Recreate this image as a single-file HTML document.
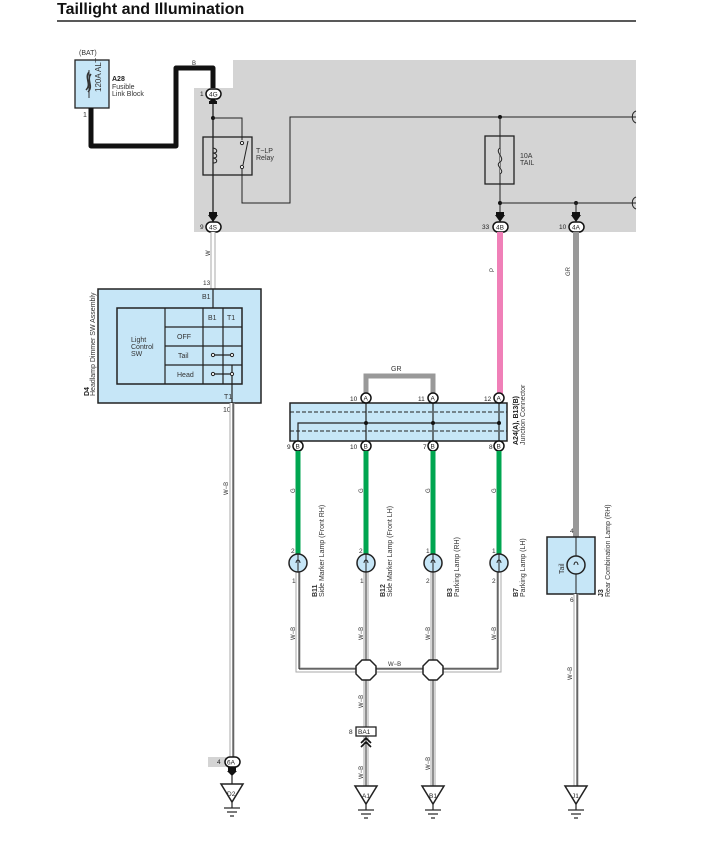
<!DOCTYPE html>
<html><head><meta charset="utf-8"><style>
html,body{margin:0;padding:0;background:#fff;}
svg{display:block;font-family:"Liberation Sans",sans-serif;}
</style></head><body>
<svg width="703" height="843" viewBox="0 0 703 843" xmlns="http://www.w3.org/2000/svg">
<defs>
<g id="gnd">
<polygon points="-11,0 11,0 0,18" fill="#fff" stroke="#222" stroke-width="1.5"/>
<line x1="0" y1="18" x2="0" y2="24" stroke="#222" stroke-width="1.2"/>
<line x1="-8" y1="24" x2="8" y2="24" stroke="#222" stroke-width="1.2"/>
<line x1="-5" y1="28" x2="5" y2="28" stroke="#222" stroke-width="1.2"/>
<line x1="-2" y1="32" x2="2" y2="32" stroke="#222" stroke-width="1.2"/>
</g>
</defs>
<text x="57" y="14" font-size="16" font-weight="bold" fill="#111">Taillight and Illumination</text>
<line x1="57" y1="21" x2="636" y2="21" stroke="#222" stroke-width="1.5"/>

<!-- gray area -->
<polygon points="194,88 233,88 233,60 636,60 636,232 194,232" fill="#d4d4d4"/>

<!-- fusible link -->
<text x="79" y="55" font-size="7" fill="#333">(BAT)</text>
<rect x="75" y="60" width="34" height="48" fill="#c6e6f7" stroke="#222" stroke-width="1.3"/>
<line x1="89" y1="70" x2="89" y2="98" stroke="#333" stroke-width="1"/>
<path d="M89,72 C84,78 92,84 86,90 M91,74 C86,80 94,86 88,92" stroke="#333" fill="none" stroke-width="1.5"/>
<text transform="translate(101,92) rotate(-90)" font-size="8" fill="#333">120A ALT</text>
<text x="112" y="81" font-size="7" font-weight="bold" fill="#222">A28</text>
<text x="112" y="89" font-size="7" fill="#333">Fusible</text>
<text x="112" y="96" font-size="7" fill="#333">Link Block</text>
<text x="83" y="117" font-size="7" fill="#333">1</text>
<polyline points="91,108 91,146 176,146 176,68 213,68 213,88" fill="none" stroke="#111" stroke-width="5" stroke-linejoin="round"/>
<text x="192" y="65" font-size="6" fill="#333">B</text>

<!-- relay section -->
<line x1="213" y1="96" x2="213" y2="222" stroke="#222" stroke-width="1.3"/>
<polygon points="209,102 217,102 213,97" fill="#111"/>
<polygon points="208,215 218,215 213,222" fill="#111"/>
<rect x="209" y="101" width="8" height="3" fill="#111"/>
<rect x="209" y="212" width="8" height="4" fill="#111"/>
<circle cx="213" cy="118" r="2" fill="#111"/>
<polyline points="213,118 242,118 242,140" fill="none" stroke="#222" stroke-width="1"/>
<rect x="203" y="137" width="49" height="38" fill="none" stroke="#222" stroke-width="1.3"/>
<path d="M213,148 c5,1 5,5 0,5 c5,1 5,5 0,5 c5,1 5,5 0,5" fill="none" stroke="#222" stroke-width="1"/>
<circle cx="242" cy="143" r="1.6" fill="#fff" stroke="#222"/>
<circle cx="242" cy="167" r="1.6" fill="#fff" stroke="#222"/>
<line x1="243" y1="165" x2="248" y2="141" stroke="#222" stroke-width="1"/>
<polyline points="242,169 242,203 290,203 290,117 636,117" fill="none" stroke="#222" stroke-width="1"/>
<text x="256" y="153" font-size="7" fill="#333">T−LP</text>
<text x="256" y="160" font-size="7" fill="#333">Relay</text>
<path d="M636,111 c-5,2 -5,10 0,12" fill="none" stroke="#222" stroke-width="1"/>
<!-- fuse -->
<circle cx="500" cy="117" r="2" fill="#111"/>
<line x1="500" y1="117" x2="500" y2="222" stroke="#222" stroke-width="1"/>
<rect x="485" y="136" width="29" height="48" fill="none" stroke="#222" stroke-width="1.3"/>
<path d="M500,148 c-6,4 6,10 0,14 c-6,4 6,8 0,12" fill="#d4d4d4" stroke="#222" stroke-width="1"/>
<text x="520" y="158" font-size="7" fill="#333">10A</text>
<text x="520" y="165" font-size="7" fill="#333">TAIL</text>
<circle cx="500" cy="203" r="2" fill="#111"/>
<circle cx="576" cy="203" r="2" fill="#111"/>
<line x1="500" y1="203" x2="636" y2="203" stroke="#222" stroke-width="1"/>
<line x1="576" y1="203" x2="576" y2="222" stroke="#222" stroke-width="1"/>
<path d="M636,197 c-5,2 -5,10 0,12" fill="none" stroke="#222" stroke-width="1"/>
<polygon points="495,215 505,215 500,222" fill="#111"/><rect x="496" y="212" width="8" height="4" fill="#111"/>
<polygon points="571,215 581,215 576,222" fill="#111"/><rect x="572" y="212" width="8" height="4" fill="#111"/>

<!-- connectors ovals -->
<g font-size="6.5" fill="#222">
<rect x="206" y="89" width="15" height="10" rx="5" fill="#fff" stroke="#111" stroke-width="1.5"/><text x="209" y="96.5">4G</text><text x="200" y="96">1</text>
<rect x="206" y="222" width="15" height="10" rx="5" fill="#fff" stroke="#111" stroke-width="1.5"/><text x="209" y="229.5">4S</text><text x="200" y="229">9</text>
<rect x="493" y="222" width="15" height="10" rx="5" fill="#fff" stroke="#111" stroke-width="1.5"/><text x="496" y="229.5">4B</text><text x="482" y="229">33</text>
<rect x="569" y="222" width="15" height="10" rx="5" fill="#fff" stroke="#111" stroke-width="1.5"/><text x="572" y="229.5">4A</text><text x="559" y="229">10</text>
</g>

<!-- W wire -->
<line x1="213" y1="232" x2="213" y2="290" stroke="#aaa" stroke-width="5"/>
<line x1="213" y1="232" x2="213" y2="290" stroke="#fff" stroke-width="3"/>
<text transform="translate(210,256) rotate(-90)" font-size="6" fill="#333">W</text>
<text x="203" y="285" font-size="6.5" fill="#333">13</text>
<!-- pink -->
<line x1="500" y1="232" x2="500" y2="398" stroke="#f080b8" stroke-width="6"/>
<text transform="translate(494,272) rotate(-90)" font-size="6" fill="#333">P</text>
<!-- GR -->
<line x1="576" y1="232" x2="576" y2="537" stroke="#999" stroke-width="6"/>
<text transform="translate(570,276) rotate(-90)" font-size="6" fill="#333">GR</text>

<!-- D4 -->
<rect x="98" y="289" width="163" height="114" fill="#c6e6f7" stroke="#222" stroke-width="1.5"/>
<line x1="213" y1="289" x2="213" y2="308" stroke="#222" stroke-width="1.2"/>
<text x="202" y="299" font-size="7" fill="#333">B1</text>
<rect x="117" y="308" width="125" height="76" fill="none" stroke="#222" stroke-width="1.5"/>
<g stroke="#222" stroke-width="1.2">
<line x1="165" y1="308" x2="165" y2="384"/>
<line x1="203" y1="308" x2="203" y2="384"/>
<line x1="223" y1="308" x2="223" y2="384"/>
<line x1="165" y1="327" x2="242" y2="327"/>
<line x1="165" y1="346" x2="242" y2="346"/>
<line x1="165" y1="365" x2="242" y2="365"/>
<line x1="213" y1="355" x2="232" y2="355"/>
<line x1="213" y1="374" x2="232" y2="374"/>
<line x1="232" y1="365" x2="232" y2="403"/>
</g>
<g fill="#fff" stroke="#222" stroke-width="1"><circle cx="213" cy="355" r="1.6"/><circle cx="232" cy="355" r="1.6"/><circle cx="213" cy="374" r="1.6"/><circle cx="232" cy="374" r="1.6"/></g>
<g font-size="7" fill="#333">
<text x="208" y="320">B1</text><text x="227" y="320">T1</text>
<text x="177" y="339">OFF</text><text x="178" y="358">Tail</text><text x="177" y="377">Head</text>
<text x="131" y="342">Light</text><text x="131" y="349">Control</text><text x="131" y="356">SW</text>
<text x="224" y="399">T1</text><text x="223" y="412">10</text>
<text transform="translate(89,396) rotate(-90)" font-size="7" font-weight="bold" fill="#222">D4</text>
<text transform="translate(95,396) rotate(-90)">Headlamp Dimmer SW Assembly</text>
</g>

<!-- D4 W-B wire to ground -->
<line x1="232" y1="403" x2="232" y2="757" stroke="#aaa" stroke-width="5"/>
<line x1="232" y1="403" x2="232" y2="757" stroke="#fff" stroke-width="3"/>
<line x1="233" y1="403" x2="233" y2="757" stroke="#222" stroke-width="1"/>
<text transform="translate(228,495) rotate(-90)" font-size="6" fill="#333">W−B</text>
<rect x="208" y="757" width="18" height="10" fill="#d4d4d4"/>
<rect x="225" y="757" width="15" height="10" rx="5" fill="#fff" stroke="#111" stroke-width="1.5"/>
<text x="227" y="764.5" font-size="6.5" fill="#222">6A</text><text x="217" y="764" font-size="6.5" fill="#222">4</text>
<rect x="228" y="767" width="8" height="4" fill="#111"/><polygon points="227,771 237,771 232,776" fill="#111"/>
<line x1="232" y1="775" x2="232" y2="784" stroke="#222" stroke-width="1.2"/>
<use href="#gnd" x="232" y="784"/>
<text x="227" y="796" font-size="6.5" fill="#222">D2</text>

<!-- junction connector -->
<polyline points="366,398 366,376 433,376 433,398" fill="none" stroke="#999" stroke-width="5"/>
<text x="391" y="371" font-size="7" fill="#333">GR</text>
<rect x="290" y="403" width="217" height="38" fill="#c6e6f7" stroke="#222" stroke-width="1.5"/>
<line x1="290" y1="412" x2="507" y2="412" stroke="#222" stroke-width="1" stroke-dasharray="4,2"/>
<line x1="290" y1="431" x2="507" y2="431" stroke="#222" stroke-width="1" stroke-dasharray="4,2"/>
<g stroke="#222" stroke-width="1.2">
<line x1="366" y1="398" x2="366" y2="446"/><line x1="433" y1="398" x2="433" y2="446"/><line x1="499" y1="398" x2="499" y2="446"/>
<polyline points="298,446 298,423 499,423" fill="none"/>
</g>
<g fill="#111"><circle cx="366" cy="423" r="2"/><circle cx="433" cy="423" r="2"/><circle cx="499" cy="423" r="2"/></g>
<g font-size="6.5" fill="#222">
<g stroke="#111" stroke-width="1.5" fill="#fff"><circle cx="366" cy="398" r="5"/><circle cx="433" cy="398" r="5"/><circle cx="499" cy="398" r="5"/>
<circle cx="298" cy="446" r="5"/><circle cx="366" cy="446" r="5"/><circle cx="433" cy="446" r="5"/><circle cx="499" cy="446" r="5"/></g>
<text x="363.5" y="400.5">A</text><text x="430.5" y="400.5">A</text><text x="496.5" y="400.5">A</text>
<text x="295.5" y="448.5">B</text><text x="363.5" y="448.5">B</text><text x="430.5" y="448.5">B</text><text x="496.5" y="448.5">B</text>
<text x="350" y="401">10</text><text x="418" y="401">11</text><text x="484" y="401">12</text>
<text x="287" y="449">9</text><text x="350" y="449">10</text><text x="423" y="449">7</text><text x="489" y="449">8</text>
</g>
<text transform="translate(518,445) rotate(-90)" font-size="7" font-weight="bold" fill="#222">A24(A), B13(B)</text>
<text transform="translate(525,445) rotate(-90)" font-size="7" fill="#333">Junction Connector</text>

<!-- green wires -->
<g stroke="#00a650" stroke-width="5">
<line x1="298" y1="451" x2="298" y2="554"/><line x1="366" y1="451" x2="366" y2="554"/>
<line x1="433" y1="451" x2="433" y2="554"/><line x1="499" y1="451" x2="499" y2="554"/>
</g>
<g font-size="6" fill="#333">
<text transform="translate(295,493) rotate(-90)">G</text><text transform="translate(363,493) rotate(-90)">G</text>
<text transform="translate(430,493) rotate(-90)">G</text><text transform="translate(496,493) rotate(-90)">G</text>
</g>

<!-- lower W-B wires -->
<g fill="none">
<path d="M298,572 V670 H499 V572 M366,572 V790 M433,572 V790" stroke="#aaa" stroke-width="5"/>
<path d="M298,572 V670 H499 V572 M366,572 V790 M433,572 V790" stroke="#fff" stroke-width="3"/>
<path d="M299,572 V669 M498,572 V669 M366,572 V790 M433,572 V790 M299,669 H498" stroke="#222" stroke-width="1"/>
</g>
<!-- lamps -->
<g stroke="#222" stroke-width="1.5" fill="#c6e6f7">
<circle cx="298" cy="563" r="9"/><circle cx="366" cy="563" r="9"/><circle cx="433" cy="563" r="9"/><circle cx="499" cy="563" r="9"/>
</g>
<g stroke="#222" stroke-width="1" fill="none">
<path d="M298,554 V572 M296,563 a2,3 0 1 1 4,0"/><path d="M366,554 V572 M364,563 a2,3 0 1 1 4,0"/>
<path d="M433,554 V572 M431,563 a2,3 0 1 1 4,0"/><path d="M499,554 V572 M497,563 a2,3 0 1 1 4,0"/>
</g>
<g font-size="6.5" fill="#333">
<text x="291" y="553">2</text><text x="292" y="583">1</text>
<text x="359" y="553">2</text><text x="360" y="583">1</text>
<text x="426" y="553">1</text><text x="426" y="583">2</text>
<text x="492" y="553">1</text><text x="492" y="583">2</text>
</g>
<g font-size="7" fill="#333">
<text transform="translate(317,597) rotate(-90)" font-weight="bold">B11</text><text transform="translate(324,597) rotate(-90)">Side Marker Lamp (Front RH)</text>
<text transform="translate(385,597) rotate(-90)" font-weight="bold">B12</text><text transform="translate(392,597) rotate(-90)">Side Marker Lamp (Front LH)</text>
<text transform="translate(452,597) rotate(-90)" font-weight="bold">B3</text><text transform="translate(459,597) rotate(-90)">Parking Lamp (RH)</text>
<text transform="translate(518,597) rotate(-90)" font-weight="bold">B7</text><text transform="translate(525,597) rotate(-90)">Parking Lamp (LH)</text>
</g>
<g font-size="6" fill="#333">
<text transform="translate(295,640) rotate(-90)">W−B</text><text transform="translate(363,640) rotate(-90)">W−B</text>
<text transform="translate(430,640) rotate(-90)">W−B</text><text transform="translate(496,640) rotate(-90)">W−B</text>
<text x="388" y="666">W−B</text>
<text transform="translate(363,708) rotate(-90)">W−B</text>
<text transform="translate(363,779) rotate(-90)">W−B</text>
<text transform="translate(430,770) rotate(-90)">W−B</text>
</g>
<!-- splices -->
<g fill="#fff" stroke="#222" stroke-width="1.5">
<polygon points="362,660 370,660 376,666 376,674 370,680 362,680 356,674 356,666"/>
<polygon points="429,660 437,660 443,666 443,674 437,680 429,680 423,674 423,666"/>
</g>
<!-- BA1 -->
<rect x="356" y="727" width="20" height="9" fill="#fff" stroke="#222" stroke-width="1.3"/>
<text x="358" y="734" font-size="6.5" fill="#222">BA1</text>
<text x="349" y="734" font-size="6.5" fill="#222">8</text>
<path d="M361,743 L366,738 L371,743 M361,747 L366,742 L371,747" fill="none" stroke="#111" stroke-width="1.6"/>
<!-- grounds -->
<use href="#gnd" x="366" y="786"/><text x="362" y="798" font-size="6.5" fill="#222">A1</text>
<use href="#gnd" x="433" y="786"/><text x="429" y="798" font-size="6.5" fill="#222">B1</text>

<!-- J3 -->
<rect x="547" y="537" width="48" height="57" fill="#c6e6f7" stroke="#222" stroke-width="1.5"/>
<line x1="576" y1="537" x2="576" y2="594" stroke="#222" stroke-width="1"/>
<circle cx="576" cy="565" r="9" fill="#c6e6f7" stroke="#222" stroke-width="1.5"/>
<path d="M574,565 a2,3 0 1 1 4,0" fill="none" stroke="#222" stroke-width="1"/>
<text transform="translate(564,574) rotate(-90)" font-size="7" fill="#333">Tail</text>
<text x="570" y="533" font-size="6.5" fill="#333">4</text>
<text x="570" y="602" font-size="6.5" fill="#333">6</text>
<text transform="translate(603,597) rotate(-90)" font-size="7" font-weight="bold" fill="#222">J3</text>
<text transform="translate(610,597) rotate(-90)" font-size="7" fill="#333">Rear Combination Lamp (RH)</text>
<line x1="576" y1="594" x2="576" y2="786" stroke="#aaa" stroke-width="5"/>
<line x1="576" y1="594" x2="576" y2="786" stroke="#fff" stroke-width="3"/>
<line x1="577" y1="594" x2="577" y2="786" stroke="#222" stroke-width="1"/>
<text transform="translate(572,680) rotate(-90)" font-size="6" fill="#333">W−B</text>
<use href="#gnd" x="576" y="786"/><text x="572" y="798" font-size="6.5" fill="#222">J1</text>
</svg>
</body></html>
